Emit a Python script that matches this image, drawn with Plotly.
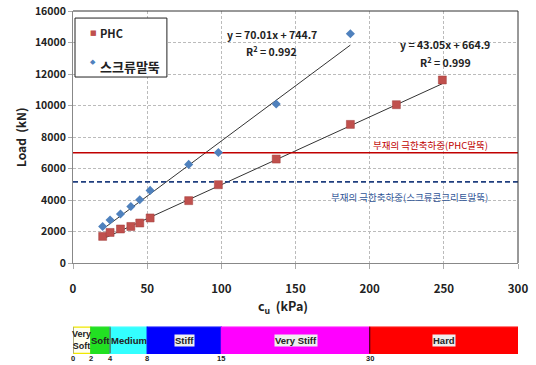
import plotly.graph_objects as go

# Measured pile capacities vs. undrained shear strength
phc_cu = [20, 25, 32, 39, 45, 52, 78, 98, 137, 187, 218, 249]
phc_load = [1690, 1940, 2160, 2320, 2540, 2860, 3960, 4970, 6600, 8800, 10050, 11620]

screw_cu = [20, 25, 32, 39, 45, 52, 78, 98, 137, 187]
screw_load = [2320, 2730, 3110, 3590, 4020, 4610, 6260, 7020, 10100, 14560]

# Linear fits (slope, intercept, R^2)
phc_fit = (43.05, 664.9, 0.999)
screw_fit = (70.01, 744.7, 0.992)

# Ultimate axial capacity of the pile body
phc_limit = 7000
screw_limit = 5150

# Consistency classes of clay along the cu axis
soil_classes = ["Very<br>Soft", "Soft", "Medium", "Stiff", "Very Stiff", "Hard"]
soil_bounds = [0, 12, 25, 50, 100, 200, 300]
soil_colors = ["#FFFFF0", "#22E022", "#33FFFF", "#0000FF", "#FF00FF", "#FF0000"]
spt_n = ["0", "2", "4", "8", "15", "30"]

FONT = "Noto Sans CJK KR"
PHC_COLOR = "#C0504D"
SCREW_COLOR = "#4F81BD"

fig = go.Figure()

# fitted lines
for cu, (a, b, _) in ((phc_cu, phc_fit), (screw_cu, screw_fit)):
    xs = [min(cu), max(cu)]
    fig.add_trace(go.Scatter(x=xs, y=[a * v + b for v in xs], mode="lines",
                             line=dict(color="#333333", width=1), hoverinfo="skip"))

# capacity limits
fig.add_trace(go.Scatter(x=[0, 300], y=[phc_limit] * 2, mode="lines",
                         line=dict(color="#C00000", width=1.6), hoverinfo="skip"))
fig.add_trace(go.Scatter(x=[0, 300], y=[screw_limit] * 2, mode="lines",
                         line=dict(color="#203F7F", width=1.6, dash="5px,3px"),
                         hoverinfo="skip"))

fig.add_trace(go.Scatter(x=phc_cu, y=phc_load, mode="markers", name="PHC",
                         marker=dict(symbol="square", size=8, color=PHC_COLOR,
                                     line=dict(color="#A03C3A", width=0.5))))
fig.add_trace(go.Scatter(x=screw_cu, y=screw_load, mode="markers", name="스크류말뚝",
                         marker=dict(symbol="diamond", size=7, color=SCREW_COLOR)))

ann = []
# fit equations
for a, b, r2, x, y1, y2 in ((screw_fit[0], screw_fit[1], screw_fit[2], 134, 14480, 13460),
                            (phc_fit[0], phc_fit[1], phc_fit[2], 251, 13900, 12770)):
    ann.append(dict(x=x, y=y1, text=f"y = {a:.2f}x + {b:.1f}", showarrow=False,
                    font=dict(size=10.5, color="#222222", family=FONT, weight="bold")))
    ann.append(dict(x=x, y=y2, text=f"R<sup>2</sup> = {r2:.3f}", showarrow=False,
                    font=dict(size=10.5, color="#222222", family=FONT, weight="bold")))

ann.append(dict(x=241, y=phc_limit + 500, text="부재의 극한축하중(PHC말뚝)", showarrow=False,
                font=dict(size=9.5, color="#C00000", family=FONT)))
ann.append(dict(x=227, y=screw_limit - 950, text="부재의 극한축하중(스크류콘크리트말뚝)",
                showarrow=False, font=dict(size=9.5, color="#2F5597", family=FONT)))

# axis titles
ann.append(dict(xref="paper", yref="paper", x=-0.119, y=0.5, textangle=-90,
                xanchor="center", yanchor="middle",
                text="Load  (kN)", showarrow=False,
                font=dict(size=12, color="#222222", family=FONT, weight="bold")))
ann.append(dict(xref="paper", yref="paper", x=0.472, y=-0.173,
                xanchor="center", yanchor="middle",
                text="c<sub>u</sub>  (kPa)", showarrow=False,
                font=dict(size=12.5, color="#222222", family=FONT, weight="bold")))

shapes = []

# legend box with the two marker series
shapes.append(dict(type="rect", xref="paper", yref="paper", x0=0.0045, x1=0.211,
                   y0=0.738, y1=0.972, line=dict(color="#222222", width=1),
                   fillcolor="white", layer="above"))
legend_rows = [(fig.data[4], "■", 7, 0.913, 0.913, 11),
               (fig.data[5], "◆", 7, 0.798, 0.780, 13)]
for tr, glyph, gsize, gy, ty, tsize in legend_rows:
    ann.append(dict(xref="paper", yref="paper", x=0.045, y=gy, xanchor="center",
                    yanchor="middle", text=glyph, showarrow=False,
                    font=dict(size=gsize, color=tr.marker.color, family="DejaVu Sans")))
    ann.append(dict(xref="paper", yref="paper", x=0.057, y=ty, xanchor="left",
                    yanchor="middle", text=tr.name, showarrow=False,
                    font=dict(size=tsize, color="#222222", family=FONT, weight="bold")))

# soil consistency band below the chart
band_top, band_bot = -0.2545, -0.3585
for i, name in enumerate(soil_classes):
    x0, x1 = soil_bounds[i], soil_bounds[i + 1]
    shapes.append(dict(type="rect", xref="x", yref="paper", x0=x0, x1=x1,
                       y0=band_bot, y1=band_top, fillcolor=soil_colors[i],
                       line=dict(width=1.2, color="#F0E800" if i == 0 else soil_colors[i]),
                       layer="above"))
    boxed = i >= 3
    ann.append(dict(x=(x0 + x1) / 2, xref="x", yref="paper", y=(band_top + band_bot) / 2,
                    xanchor="center", yanchor="middle",
                    text=name, showarrow=False,
                    bgcolor="#EEEEEE" if boxed else None,
                    font=dict(size=9 if i == 0 else 9.5, color="#222222",
                              family="Liberation Sans", weight="bold"),
                    borderpad=0))
    ann.append(dict(x=x0, xref="x", yref="paper", y=-0.38, xanchor="center",
                    yanchor="middle", text=spt_n[i], showarrow=False,
                    font=dict(size=7.5, color="#222222", family="Liberation Sans",
                              weight="bold")))
ann.append(dict(x=-14, xref="x", yref="paper", y=-0.38, xanchor="center", yanchor="middle",
                text="N", showarrow=False,
                font=dict(size=7.5, color="#222222", family="Liberation Sans", weight="bold")))
# class boundary separators
for xb, col in ((0, "#888888"), (25, "#556655"), (200, "#550022")):
    shapes.append(dict(type="line", xref="x", yref="paper", x0=xb, x1=xb,
                       y0=band_bot, y1=band_top, line=dict(color=col, width=1.3),
                       layer="above"))
# chart frame (top and right edges)
shapes.append(dict(type="line", xref="paper", yref="paper", x0=0, x1=1, y0=1, y1=1,
                   line=dict(color="#333333", width=1)))
shapes.append(dict(type="line", xref="paper", yref="paper", x0=1, x1=1, y0=0, y1=1,
                   line=dict(color="#333333", width=1)))

fig.update_layout(
    width=536, height=365,
    margin=dict(l=73, r=18, t=11, b=101.7),
    plot_bgcolor="white", paper_bgcolor="white",
    font=dict(family=FONT, color="#222222"),
    showlegend=False,
    annotations=ann, shapes=shapes,
    xaxis=dict(range=[0, 300], dtick=50, showgrid=True, gridcolor="#BBBBBB",
               griddash="3px,2px", gridwidth=1, zeroline=False, automargin=False,
               showline=True, linecolor="#888888", linewidth=1,
               ticks="outside", ticklen=5, tickcolor="#AAAAAA", ticklabelstandoff=10,
               tickfont=dict(size=11.5, family=FONT, color="#222222", weight="bold")),
    yaxis=dict(range=[0, 16000], dtick=2000, tickformat="d", showgrid=True,
               gridcolor="#BBBBBB", griddash="3px,2px", gridwidth=1, zeroline=False,
               automargin=False, showline=True, linecolor="#888888", linewidth=1,
               ticks="outside", ticklen=4, tickcolor="#AAAAAA",
               tickfont=dict(size=10.5, family=FONT, color="#222222", weight="bold")),
)

fig.write_html("out.html")
